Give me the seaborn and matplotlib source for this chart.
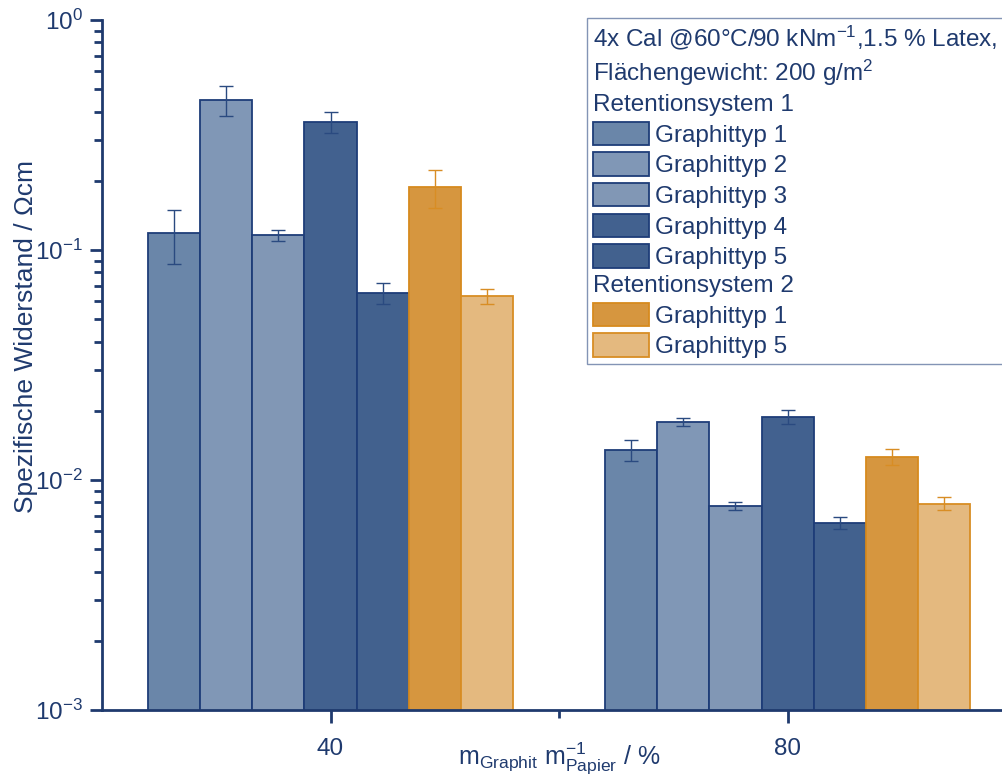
import numpy as np
import pandas as pd
import seaborn as sns
import matplotlib
matplotlib.use('Agg')
from matplotlib import pyplot as plt
from matplotlib.patches import Patch
from matplotlib.ticker import NullFormatter, LogLocator

# graphite content (x categories)
anteil = ['40', '80']

# series: retention system + graphite type
serien = ['R1 Graphittyp 1', 'R1 Graphittyp 2', 'R1 Graphittyp 3', 'R1 Graphittyp 4',
          'R1 Graphittyp 5', 'R2 Graphittyp 1', 'R2 Graphittyp 5']
legend_labels = ['Graphittyp 1', 'Graphittyp 2', 'Graphittyp 3', 'Graphittyp 4',
                 'Graphittyp 5', 'Graphittyp 1', 'Graphittyp 5']

# specific resistance in Ohm cm, one list per x category (order = serien)
widerstand_40 = [0.118, 0.449, 0.116, 0.360, 0.065, 0.188, 0.063]
widerstand_80 = [0.0135, 0.0179, 0.0077, 0.0188, 0.0065, 0.0126, 0.0079]
fehler_40 = [0.031, 0.065, 0.0065, 0.038, 0.007, 0.035, 0.005]
fehler_80 = [0.0014, 0.0007, 0.0003, 0.0013, 0.0004, 0.0010, 0.0005]

fill = ['#6a86a9', '#8097b6', '#8197b5', '#42618f', '#42618e', '#d6963f', '#e4b97f']
edge = ['#1e3d78', '#1e3d78', '#1e3d78', '#1e3d78', '#1e3d78', '#d78a1e', '#d88d24']
navy = '#1f3a6e'

sns.set_theme(style='ticks')
plt.rcParams['font.family'] = ['Liberation Sans', 'DejaVu Sans']
plt.rcParams['mathtext.fontset'] = 'custom'
plt.rcParams['mathtext.rm'] = 'Liberation Sans'
plt.rcParams['mathtext.it'] = 'Liberation Sans:italic'
plt.rcParams['mathtext.bf'] = 'Liberation Sans:bold'
plt.rcParams['mathtext.default'] = 'regular'

df = pd.DataFrame({
    'anteil': [a for a in anteil for _ in serien],
    'serie': serien * len(anteil),
    'wert': widerstand_40 + widerstand_80,
})
err = {'40': fehler_40, '80': fehler_80}

fig = plt.figure(figsize=(10.02, 7.76), dpi=100)
ax = fig.add_axes([102 / 1002, 66 / 776, 900 / 1002, 690 / 776])

sns.barplot(data=df, x='anteil', y='wert', hue='serie', order=anteil, hue_order=serien,
            palette=dict(zip(serien, fill)), width=0.8, errorbar=None, legend=False,
            saturation=1, ax=ax)
ax.set_yscale('log')

bar_conts = list(ax.containers)
for i, cont in enumerate(bar_conts):
    xs, ys, es = [], [], []
    for j, bar in enumerate(cont):
        bar.set_edgecolor(edge[i])
        bar.set_linewidth(1.3)
        xs.append(bar.get_x() + bar.get_width() / 2)
        ys.append(df[(df.anteil == anteil[j]) & (df.serie == serien[i])].wert.iloc[0])
        es.append(err[anteil[j]][i])
    ec = '#2a4a80' if i < 5 else '#d88d24'
    ax.errorbar(xs, ys, yerr=es, fmt='none', ecolor=ec, elinewidth=1.0,
                capsize=5, capthick=1.0, zorder=3)

ax.set_ylim(1e-3, 1)
ax.set_xlim(-0.5, 1.469)
ax.yaxis.set_major_locator(LogLocator(base=10, numticks=10))
ax.yaxis.set_minor_locator(LogLocator(base=10, subs=np.arange(2, 10), numticks=20))
ax.yaxis.set_minor_formatter(NullFormatter())
ax.set_xticks([0.5], minor=True)

sns.despine(ax=ax)
for s in ['left', 'bottom']:
    ax.spines[s].set_color(navy)
    ax.spines[s].set_linewidth(2)
ax.tick_params(axis='both', which='major', length=9, width=2, color=navy,
               labelcolor=navy, labelsize=17.5, direction='out')
ax.tick_params(axis='both', which='minor', length=5.5, width=2, color=navy, direction='out')
ax.tick_params(axis='x', which='major', pad=11)
ax.tick_params(axis='y', which='major', pad=5)

ax.set_xlabel('m$_{Graphit}$ m$^{-1}_{Papier}$ / %', color=navy, fontsize=18)
ax.xaxis.set_label_coords(1.0 / 1.969, -0.043)
ax.set_ylabel('Spezifische Widerstand / \u03a9cm', color=navy, fontsize=19)
ax.yaxis.set_label_coords(-0.071, 0.541)

blank = Patch(visible=False)
handles = [blank, blank, blank] + \
    [Patch(facecolor=fill[k], edgecolor=edge[k], linewidth=1.3) for k in range(5)] + \
    [blank] + [Patch(facecolor=fill[k], edgecolor=edge[k], linewidth=1.3) for k in range(5, 7)]
labels = ['4x Cal @60\u00b0C/90 kNm$^{-1}$,1.5 % Latex,', 'Fl\u00e4chengewicht: 200 g/m$^{2}$',
          'Retentionsystem 1'] + legend_labels[:5] + ['Retentionsystem 2'] + legend_labels[5:]
leg = fig.legend(handles, labels, loc='upper left', bbox_to_anchor=(587 / 1002, 1 - 18 / 776),
                 bbox_transform=fig.transFigure, borderaxespad=0, fontsize=17.5,
                 handlelength=2.3, handleheight=1.1, handletextpad=0.25, labelspacing=0.235,
                 borderpad=0.25, fancybox=False, framealpha=1, edgecolor='#8394b5')
leg.get_frame().set_linewidth(1.0)
for t in leg.get_texts():
    t.set_color(navy)

# header rows without a handle: drop the empty handle box so text starts at the left
rows = leg._legend_handle_box.get_children()[0].get_children()
for k in [0, 1, 2, 8]:
    rows[k].get_children().pop(0)

fig.savefig('out.png', dpi=100)
